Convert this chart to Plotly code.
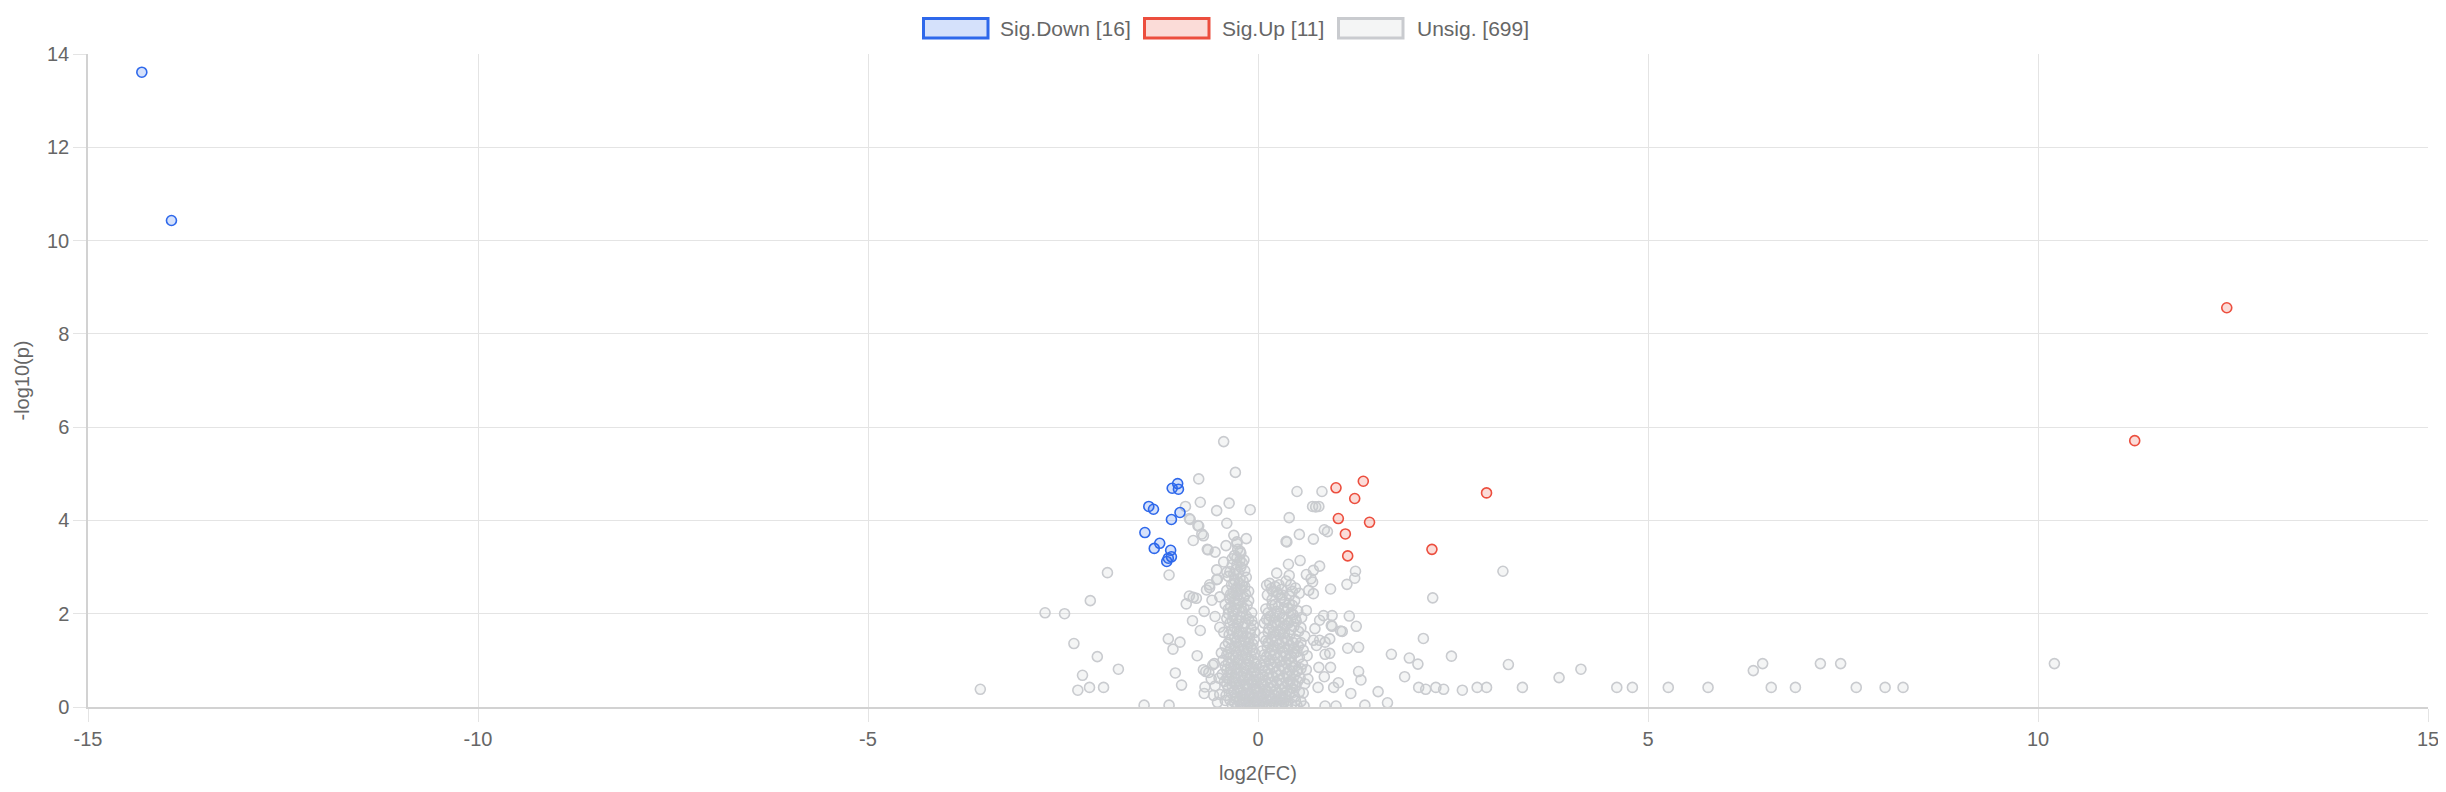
import plotly.graph_objects as go

# significant down-regulated (log2FC, -log10 p)
down_x = [-14.31, -13.93, -1.03, -1.10, -1.02, -1.40, -1.34, -1.00, -1.11, -1.45,
          -1.26, -1.33, -1.12, -1.11, -1.15, -1.17]
down_y = [13.61, 10.43, 4.79, 4.69, 4.67, 4.30, 4.24, 4.17, 4.02, 3.74,
          3.51, 3.40, 3.36, 3.22, 3.19, 3.12]

# significant up-regulated
up_x = [12.42, 11.24, 1.00, 1.35, 1.24, 2.93, 1.03, 1.43, 1.12, 2.23, 1.15]
up_y = [8.56, 5.71, 4.70, 4.84, 4.47, 4.59, 4.04, 3.96, 3.71, 3.38, 3.24]

# unsignificant (outer scatter, read point by point)
unsig_outer_x = [-3.56, -2.73, -2.48, -2.36, -2.31, -2.25, -2.16, -2.15, -2.06, -1.98,
                 -1.93, -1.79, -1.46, -1.14, -1.15, -1.00, -1.09, -1.06, -0.98, -1.14,
                 -0.78, -0.84, -0.74, -0.92, -0.83, -0.88, -0.79, -0.69, -0.62, -0.66,
                 -0.59, -0.49, -0.53, -0.53, -0.40, -0.44, -0.64, -0.55, -0.41, -0.27,
                 -0.15, -0.40, -0.53, -0.37, -0.74, -0.10, -0.83, -0.77, -0.88, -0.72,
                 -0.70, -0.76, -0.44, -0.29, -0.76, -0.93, -0.87, -0.23, -0.27, -0.31,
                 -0.55, -0.49, -0.47, -0.56, -0.70, -0.67, -0.63, -0.69, -0.68, -0.49,
                 -0.42, -0.58, -0.52, -0.65, -0.62,
                 0.50, 0.82, 0.74, 0.78, 0.70, 0.40, 0.53, 0.71, 0.36, 0.85,
                 0.89, 0.39, 0.54, 0.79, 1.25, 1.24, 1.14, 0.93, 3.14, 2.24,
                 1.17, 1.26, 1.06, 1.08, 0.95, 0.95, 1.15, 1.29, 0.92, 0.86,
                 1.29, 1.32, 1.03, 0.97, 1.19, 1.37, 1.00, 0.86, 0.77, 0.78,
                 0.93, 0.85, 0.59, 0.36, 1.54, 1.66, 1.71, 1.88, 1.94, 2.05,
                 2.12, 2.48, 2.06, 2.15, 2.28, 2.38, 2.62, 2.81, 2.93, 3.21,
                 3.39, 3.86, 4.14, 4.60, 4.80, 5.26, 5.77, 6.35, 6.47, 6.58,
                 6.89, 7.21, 7.47, 7.67, 8.04, 8.27, 10.21, 0.37, 0.24, 0.40,
                 0.62, 0.71, 0.68, 0.70, 0.65, 0.71, 0.11, 0.17, 0.84, 0.94,
                 0.73, 0.79, 0.62, 0.71, 0.79, 0.86, 0.92, 0.75, 0.48]
unsig_outer_y = [0.38, 2.02, 2.00, 1.36, 0.36, 0.68, 0.42, 2.28, 1.08, 0.42,
                 2.88, 0.81, 0.04, 0.04, 1.46, 1.39, 1.24, 0.73, 0.47, 2.83,
                 1.10, 1.85, 1.64, 2.21, 2.35, 2.38, 2.33, 2.05, 2.56, 2.51,
                 2.29, 2.36, 2.94, 2.73, 2.89, 3.11, 3.37, 3.32, 3.46, 3.54,
                 3.61, 3.94, 4.21, 4.37, 4.39, 4.23, 3.57, 3.89, 4.04, 3.71,
                 3.67, 3.88, 5.69, 5.03, 4.89, 4.30, 4.02, 3.34, 3.50, 3.68,
                 1.94, 1.71, 1.16, 0.93, 0.80, 0.76, 0.74, 0.29, 0.43, 0.27,
                 0.14, 0.90, 2.74, 3.38, 2.62,
                 4.62, 4.62, 4.29, 4.30, 4.30, 4.06, 3.70, 3.60, 3.55, 3.80,
                 3.76, 3.06, 3.14, 3.02, 2.91, 2.76, 2.63, 2.53, 2.91, 2.34,
                 1.95, 1.73, 1.63, 1.62, 1.96, 1.73, 1.26, 1.28, 1.15, 1.13,
                 0.76, 0.58, 0.52, 0.42, 0.29, 0.04, 0.02, 0.02, 0.42, 0.85,
                 0.85, 0.65, 0.02, 0.04, 0.33, 0.09, 1.13, 0.65, 1.05, 0.92,
                 1.47, 1.09, 0.42, 0.38, 0.42, 0.38, 0.36, 0.42, 0.42, 0.91,
                 0.42, 0.63, 0.81, 0.42, 0.42, 0.42, 0.42, 0.78, 0.93, 0.42,
                 0.42, 0.93, 0.93, 0.42, 0.42, 0.42, 0.93, 3.54, 2.87, 2.82,
                 2.84, 2.93, 2.75, 2.68, 2.50, 2.43, 2.61, 2.54, 1.96, 1.75,
                 1.68, 1.86, 2.07, 1.43, 1.43, 1.39, 1.46, 1.32, 0.14]

# unsignificant (dense V-shaped core, estimated)
unsig_core_x = [-0.30, -0.22, -0.18, -0.26, -0.33, -0.28, -0.22, -0.17, -0.36, -0.38,
                -0.30, -0.24, -0.15, -0.20, -0.34, -0.40, -0.32, -0.26, -0.18, -0.12,
                -0.36, -0.22, -0.42, -0.35, -0.28, -0.20, -0.14, -0.08, -0.38, -0.25,
                -0.40, -0.33, -0.26, -0.19, -0.12, -0.06, -0.30, -0.22, -0.44, -0.37,
                -0.30, -0.24, -0.17, -0.10, -0.05, -0.28, -0.20, -0.42, -0.35, -0.28,
                -0.22, -0.15, -0.09, -0.04, -0.32, -0.18, -0.45, -0.38, -0.31, -0.25,
                -0.18, -0.12, -0.06, -0.02, -0.35, -0.22, -0.46, -0.40, -0.33, -0.27,
                -0.20, -0.14, -0.08, -0.03, -0.36, -0.24, -0.11, -0.38, -0.31, -0.25,
                -0.19, -0.13, -0.08, -0.03, -0.28, -0.16, -0.05, -0.34, -0.30, -0.22,
                -0.15, -0.10, -0.05, -0.01, -0.18, -0.26,
                0.15, 0.22, 0.30, 0.42, 0.48, 0.36, 0.12, 0.18, 0.26, 0.34,
                0.40, 0.47, 0.53, 0.10, 0.16, 0.24, 0.31, 0.38, 0.45, 0.51,
                0.56, 0.08, 0.14, 0.21, 0.28, 0.35, 0.42, 0.49, 0.55, 0.07,
                0.13, 0.20, 0.27, 0.34, 0.41, 0.48, 0.55, 0.60, 0.05, 0.11,
                0.18, 0.25, 0.32, 0.39, 0.46, 0.53, 0.58, 0.63, 0.03, 0.09,
                0.16, 0.23, 0.30, 0.37, 0.44, 0.51, 0.57, 0.62, 0.02, 0.07,
                0.13, 0.20, 0.27, 0.34, 0.41, 0.48, 0.54, 0.60, 0.01, 0.06,
                0.12, 0.18, 0.25, 0.32, 0.40, 0.47, 0.53, 0.02, 0.08, 0.14,
                0.20, 0.27, 0.33, 0.43, 0.50]
unsig_core_y = [3.25, 3.30, 3.15, 3.38, 3.05, 2.95, 3.00, 2.92, 2.90, 2.80,
                2.72, 2.65, 2.78, 2.60, 2.62, 2.50, 2.45, 2.40, 2.35, 2.48,
                2.32, 2.52, 2.20, 2.15, 2.10, 2.05, 2.18, 2.02, 2.00, 2.22,
                1.90, 1.85, 1.78, 1.72, 1.88, 1.75, 1.70, 1.92, 1.60, 1.55,
                1.48, 1.62, 1.42, 1.58, 1.45, 1.40, 1.52, 1.30, 1.25, 1.18,
                1.32, 1.12, 1.28, 1.15, 1.10, 1.22, 1.00, 0.95, 0.88, 1.02,
                0.82, 0.98, 0.85, 0.92, 0.82, 0.92, 0.70, 0.62, 0.55, 0.72,
                0.58, 0.68, 0.52, 0.65, 0.74, 0.50, 0.60, 0.40, 0.32, 0.42,
                0.25, 0.38, 0.28, 0.40, 0.22, 0.30, 0.20, 0.30, 0.10, 0.05,
                0.12, 0.03, 0.08, 0.02, 0.08, 0.02,
                2.65, 2.58, 2.52, 2.62, 2.55, 2.70, 2.40, 2.30, 2.42, 2.25,
                2.38, 2.28, 2.44, 2.10, 1.95, 2.05, 1.92, 2.12, 1.98, 2.06,
                1.92, 1.80, 1.68, 1.82, 1.62, 1.75, 1.66, 1.84, 1.70, 1.50,
                1.38, 1.52, 1.35, 1.48, 1.32, 1.45, 1.38, 1.52, 1.20, 1.08,
                1.22, 1.05, 1.18, 1.02, 1.15, 1.06, 1.22, 1.10, 0.90, 0.78,
                0.92, 0.75, 0.88, 0.72, 0.85, 0.78, 0.92, 0.80, 0.60, 0.48,
                0.62, 0.45, 0.58, 0.42, 0.55, 0.46, 0.62, 0.50, 0.32, 0.22,
                0.34, 0.18, 0.30, 0.20, 0.28, 0.22, 0.32, 0.05, 0.10, 0.03,
                0.08, 0.02, 0.10, 0.06, 0.03]

# more of the dense core, in between the points above
unsig_fill_x = [-0.27, -0.20, -0.31, -0.25, -0.19, -0.28, -0.35, -0.16, -0.30, -0.24,
                -0.32, -0.18, -0.36, -0.28, -0.16, -0.09, -0.34, -0.26, -0.14, -0.38,
                -0.25, -0.12, -0.07, -0.40, -0.29, -0.16, -0.09, -0.42, -0.28, -0.15,
                -0.05, -0.43, -0.30, -0.17, -0.06, -0.22, -0.41, -0.22, -0.11, -0.01,
                -0.36, -0.12, -0.07, -0.20, -0.03,
                0.19, 0.27, 0.44, 0.22, 0.30, 0.44, 0.13, 0.28, 0.42, 0.48,
                0.11, 0.18, 0.25, 0.32, 0.39, 0.46, 0.52, 0.10, 0.17, 0.24,
                0.31, 0.38, 0.45, 0.52, 0.08, 0.15, 0.22, 0.29, 0.36, 0.43,
                0.50, 0.06, 0.13, 0.20, 0.27, 0.34, 0.41, 0.48, 0.55, 0.04,
                0.10, 0.17, 0.24, 0.31, 0.38, 0.45, 0.51, 0.04, 0.09, 0.15,
                0.22, 0.29, 0.36, 0.44, 0.05, 0.11, 0.17, 0.24, 0.30, 0.38]
unsig_fill_y = [3.20, 3.08, 2.85, 2.88, 2.70, 2.55, 2.42, 2.42, 2.30, 2.28,
                2.05, 2.12, 1.80, 1.88, 1.80, 1.68, 1.65, 1.55, 1.50, 1.38,
                1.28, 1.36, 1.22, 1.12, 1.05, 1.05, 1.10, 0.88, 0.80, 0.90,
                0.75, 0.55, 0.62, 0.48, 0.58, 0.66, 0.25, 0.35, 0.22, 0.30,
                0.15, 0.14, 0.10, 0.16, 0.13,
                2.48, 2.62, 2.48, 2.20, 2.34, 2.18, 2.02, 2.00, 2.02, 1.90,
                1.88, 1.72, 1.76, 1.68, 1.80, 1.72, 1.62, 1.42, 1.45, 1.42,
                1.40, 1.42, 1.38, 1.30, 1.12, 1.15, 1.12, 1.10, 1.10, 1.08,
                1.18, 0.84, 0.82, 0.85, 0.80, 0.82, 0.78, 0.88, 0.82, 0.54,
                0.55, 0.52, 0.52, 0.50, 0.50, 0.52, 0.55, 0.26, 0.28, 0.25,
                0.24, 0.24, 0.25, 0.30, 0.14, 0.16, 0.13, 0.15, 0.15, 0.14]

# third layer of the core (the reference is almost solid grey there)
unsig_dense_x = [-0.33, -0.24, -0.12, -0.04, -0.29, -0.18, -0.09, -0.40, -0.33, -0.26,
                 -0.19, -0.12, -0.05, -0.37, -0.29, -0.16, -0.09, -0.02, -0.40, -0.33,
                 -0.25, -0.18, -0.10, -0.03, -0.36, -0.27, -0.20, -0.12, -0.05, -0.38,
                 -0.30, -0.22, -0.14, -0.07, -0.35, -0.27, -0.19, -0.11, -0.04, -0.32,
                 -0.24, -0.15, -0.08, -0.38, -0.29, -0.22, -0.12, -0.33, -0.27, -0.17,
                 -0.31, -0.23, -0.27, -0.23, -0.33,
                 0.05, 0.11, 0.17, 0.23, 0.30, 0.37, 0.03, 0.10, 0.16, 0.23,
                 0.30, 0.37, 0.44, 0.06, 0.12, 0.19, 0.26, 0.33, 0.40, 0.47,
                 0.08, 0.15, 0.22, 0.29, 0.36, 0.43, 0.12, 0.19, 0.26, 0.33,
                 0.40, 0.47, 0.13, 0.20, 0.27, 0.34, 0.41, 0.14, 0.21, 0.28,
                 0.35, 0.42, 0.18, 0.26, 0.33, 0.40, 0.24, 0.31,
                 -0.55, -0.60, -0.50, -0.57, -0.52, 0.58, 0.64, 0.55]
unsig_dense_y = [0.05, 0.12, 0.06, 0.04, 0.18, 0.20, 0.17, 0.48, 0.45, 0.35,
                 0.42, 0.47, 0.36, 0.60, 0.52, 0.62, 0.72, 0.52, 0.80, 0.70,
                 0.84, 0.75, 0.85, 0.78, 1.05, 0.95, 1.10, 1.05, 0.98, 1.18,
                 1.30, 1.40, 1.25, 1.35, 1.45, 1.62, 1.58, 1.48, 1.60, 1.95,
                 1.85, 1.95, 1.85, 2.10, 2.20, 2.15, 2.28, 2.38, 2.52, 2.58,
                 2.65, 2.75, 3.05, 3.15, 3.18,
                 0.02, 0.06, 0.04, 0.05, 0.06, 0.04, 0.40, 0.36, 0.40, 0.36,
                 0.38, 0.34, 0.40, 0.68, 0.70, 0.65, 0.68, 0.64, 0.66, 0.68,
                 0.98, 1.00, 0.96, 0.98, 0.95, 0.97, 1.28, 1.30, 1.26, 1.28,
                 1.24, 1.26, 1.60, 1.60, 1.55, 1.58, 1.55, 1.86, 1.92, 1.82,
                 1.88, 1.86, 2.18, 2.15, 2.10, 2.22, 2.46, 2.40,
                 0.45, 0.60, 0.62, 0.25, 0.10, 0.30, 0.60, 0.12]

unsig_total = 699
x_ticks = [-15, -10, -5, 0, 5, 10, 15]
y_ticks = [0, 2, 4, 6, 8, 10, 12, 14]

BLUE = 'rgb(46,104,235)'
RED = 'rgb(236,78,62)'
GREY = 'rgb(201,203,207)'
TXT = 'rgb(102,102,102)'
GRID = 'rgb(228,228,228)'
FONT = 'Liberation Sans, Arial, sans-serif'

def fill(rgb, a):
    return rgb.replace('rgb', 'rgba').replace(')', f',{a})')

fig = go.Figure()

series = [
    (unsig_outer_x + unsig_core_x + unsig_fill_x + unsig_dense_x,
     unsig_outer_y + unsig_core_y + unsig_fill_y + unsig_dense_y, GREY, f'Unsig. [{unsig_total}]'),
    (down_x, down_y, BLUE, f'Sig.Down [{len(down_x)}]'),
    (up_x, up_y, RED, f'Sig.Up [{len(up_x)}]'),
]
for xs, ys, col, name in series:
    fig.add_trace(go.Scatter(
        x=xs, y=ys, mode='markers', name=name, showlegend=False,
        marker=dict(size=10, color=fill(col, 0.2), line=dict(color=col, width=1.6)),
    ))

# the page body has an 8px margin, so the figure is a bit smaller than the window
W, H = 2436, 776
L, R, T, B = 80, 16, 46, 77
pw, ph = W - L - R, H - T - B
OFF = 8

def px_x(p):
    return (p - OFF - L) / pw

def px_y(p):
    return (H - B - (p - OFF)) / ph

legend_items = [
    (922, 998, BLUE, f'Sig.Down [{len(down_x)}]'),
    (1143, 1220, RED, f'Sig.Up [{len(up_x)}]'),
    (1337, 1415, GREY, f'Unsig. [{unsig_total}]'),
]
for bx, tx, col, label in legend_items:
    fig.add_shape(type='rect', xref='paper', yref='paper',
                  x0=px_x(bx + 1.5), x1=px_x(bx + 66), y0=px_y(18.5), y1=px_y(38),
                  line=dict(color=col, width=3), fillcolor=fill(col, 0.2))
    fig.add_annotation(xref='paper', yref='paper', x=px_x(tx), y=px_y(28.5),
                       text=label, showarrow=False, xanchor='left', yanchor='middle',
                       font=dict(size=21, color=TXT, family=FONT))

axis_common = dict(
    showgrid=True, gridcolor=GRID, gridwidth=1.2,
    ticks='outside', ticklen=13, tickcolor=GRID, tickwidth=1.2,
    showline=True, linecolor='rgb(210,210,210)', linewidth=1.5,
    zeroline=False, automargin=False, ticklabeloverflow='allow',
    tickfont=dict(size=20, color=TXT, family=FONT),
)

fig.update_layout(
    width=W, height=H,
    margin=dict(l=L, r=R, t=T, b=B),
    plot_bgcolor='white', paper_bgcolor='white',
    font=dict(family=FONT, color=TXT, size=20),
    xaxis=dict(range=[-15, 15], tickvals=x_ticks, ticktext=[str(v) for v in x_ticks],
               title=dict(text='log2(FC)', font=dict(size=20, color=TXT), standoff=18),
               **axis_common),
    yaxis=dict(range=[0, 14], tickvals=y_ticks, ticktext=[str(v) for v in y_ticks],
               title=dict(text='-log10(p)', font=dict(size=20, color=TXT), standoff=12),
               **axis_common),
)

fig.write_html("out.html")
